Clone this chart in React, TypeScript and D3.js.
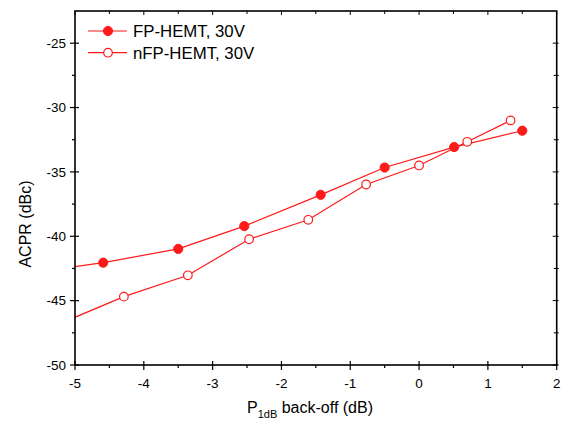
import React from "react";
import * as d3 from "d3";

const fpX = [-5.6, -4.59, -3.5, -2.54, -1.43, -0.5, 0.51, 1.5];
const fpY = [-42.8, -42.05, -40.98, -39.21, -36.78, -34.66, -33.07, -31.8];
const nfpX = [-5.2, -4.29, -3.36, -2.47, -1.61, -0.77, 0.0, 0.7, 1.33];
const nfpY = [-46.74, -44.69, -43.03, -40.23, -38.72, -35.98, -34.5, -32.66, -31.0];
const xTicks = [-5, -4, -3, -2, -1, 0, 1, 2];
const yTicks = [-50, -45, -40, -35, -30, -25];
const legendLabels = ["FP-HEMT, 30V", "nFP-HEMT, 30V"];

const W = 563, H = 421;
const L = 75, R = 556.7, T = 11, B = 365;
const RED = "#ff1a1a";
const FONT = "'Liberation Sans', Arial, Helvetica, sans-serif";

export default function App() {
  const x = d3.scaleLinear().domain([-5, 2]).range([L, R]);
  const y = d3.scaleLinear().domain([-50, -22.5]).range([B, T]);
  const line = d3.line<[number, number]>().x(d => x(d[0])).y(d => y(d[1]));
  const fp: [number, number][] = fpX.map((v, i) => [v, fpY[i]]);
  const nfp: [number, number][] = nfpX.map((v, i) => [v, nfpY[i]]);
  const inDom = (d: [number, number]) => d[0] >= -5 && d[0] <= 2;
  const xMinor = d3.range(-5, 2.001, 0.5);
  const yMinor = d3.range(-50, -22.5, 2.5);

  return (
    <svg width={W} height={H} style={{ position: "absolute", left: 0, top: 0 }} fontFamily={FONT}>
      <defs>
        <clipPath id="plot">
          <rect x={L} y={T} width={R - L} height={B - T} />
        </clipPath>
      </defs>
      <g clipPath="url(#plot)">
        <path d={line(fp) || ""} fill="none" stroke={RED} strokeWidth={1.2} />
        <path d={line(nfp) || ""} fill="none" stroke={RED} strokeWidth={1.2} />
      </g>
      {fp.filter(inDom).map((d, i) => (
        <circle key={"f" + i} cx={x(d[0])} cy={y(d[1])} r={4.6} fill={RED} stroke={RED} strokeWidth={1} />
      ))}
      {nfp.filter(inDom).map((d, i) => (
        <circle key={"n" + i} cx={x(d[0])} cy={y(d[1])} r={4.3} fill="#fff" stroke={RED} strokeWidth={1.2} />
      ))}
      <rect x={L} y={T} width={R - L} height={B - T} fill="none" stroke="#000" strokeWidth={1.6} />
      {xMinor.map((v, i) => {
        const major = Math.abs(v - Math.round(v)) < 1e-6;
        return (
          <g key={"xb" + i}>
            <line x1={x(v)} x2={x(v)} y1={major ? B - 4 : B} y2={B + (major ? 5 : 3)} stroke="#000" strokeWidth={1.2} />
            <line x1={x(v)} x2={x(v)} y1={T} y2={T + (major ? 4 : 3)} stroke="#000" strokeWidth={1} />
          </g>
        );
      })}
      {yMinor.map((v, i) => {
        const major = Math.abs(v / 5 - Math.round(v / 5)) < 1e-6;
        return (
          <g key={"yl" + i}>
            <line x1={L - (major ? 5 : 3)} x2={major ? L + 4 : L} y1={y(v)} y2={y(v)} stroke="#000" strokeWidth={1.2} />
            <line x1={R - (major ? 4 : 3)} x2={R + 2} y1={y(v)} y2={y(v)} stroke="#000" strokeWidth={1} />
          </g>
        );
      })}
      {xTicks.map(v => (
        <text key={"xt" + v} x={x(v)} y={388} textAnchor="middle" fontSize={13.5} fill="#000">
          {String(v)}
        </text>
      ))}
      {yTicks.map(v => (
        <text key={"yt" + v} x={L - 9} y={y(v)} dy="0.35em" textAnchor="end" fontSize={13.5} fill="#000">
          {String(v)}
        </text>
      ))}
      <text x={247} y={413} fontSize={16} fill="#000">
        P<tspan fontSize={11} dy={5}>1dB</tspan>
        <tspan dy={-5}> back-off (dB)</tspan>
      </text>
      <text transform={`translate(31,224) rotate(-90)`} textAnchor="middle" fontSize={16} fill="#000">
        ACPR (dBc)
      </text>
      {legendLabels.map((lab, i) => {
        const ly = 31 + i * 21.7;
        return (
          <g key={"lg" + i}>
            <line x1={88} x2={127} y1={ly} y2={ly} stroke={RED} strokeWidth={1.2} />
            {i === 0 ? (
              <circle cx={108} cy={ly} r={4.6} fill={RED} stroke={RED} />
            ) : (
              <circle cx={108} cy={ly} r={4.3} fill="#fff" stroke={RED} strokeWidth={1.2} />
            )}
            <text x={133} y={ly} dy="0.36em" fontSize={16.8} fill="#000">{lab}</text>
          </g>
        );
      })}
    </svg>
  );
}
